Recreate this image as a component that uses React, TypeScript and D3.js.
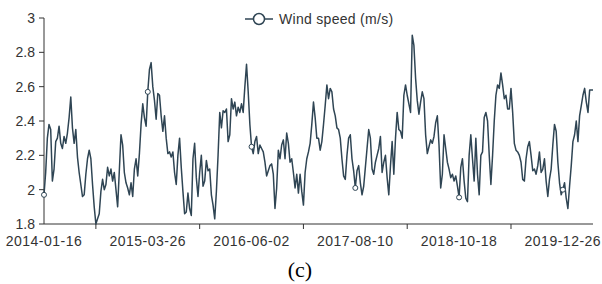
import * as d3 from 'd3';

// weekly mean wind speed
const windSpeed = [
  1.97, 2.10, 2.30, 2.38, 2.35, 2.05, 2.12, 2.28, 2.30, 2.37,
  2.27, 2.24, 2.31, 2.27, 2.33, 2.42, 2.54, 2.36, 2.27, 2.35,
  2.19, 2.10, 2.03, 1.96, 1.97, 2.09, 2.18, 2.23, 2.18, 2.03,
  1.90, 1.80, 1.83, 1.86, 1.99, 2.06, 2.00, 2.03, 2.13, 2.08,
  2.12, 2.05, 2.10, 2.00, 1.90, 2.11, 2.32, 2.26, 2.10, 2.04,
  2.01, 1.97, 2.04, 1.96, 2.12, 2.18, 2.08, 2.21, 2.38, 2.50,
  2.42, 2.37, 2.57, 2.70, 2.74, 2.60, 2.52, 2.41, 2.56, 2.55,
  2.43, 2.34, 2.43, 2.30, 2.21, 2.22, 2.19, 2.22, 2.10, 2.03,
  2.20, 2.30, 2.13, 1.99, 1.86, 1.87, 1.98, 1.89, 1.85, 2.18,
  2.27, 2.07, 1.96, 2.10, 2.20, 2.02, 2.05, 2.17, 2.11, 2.12,
  1.97, 1.91, 1.83, 1.99, 2.20, 2.45, 2.36, 2.46, 2.45, 2.47,
  2.28, 2.32, 2.53, 2.47, 2.51, 2.43, 2.48, 2.45, 2.50, 2.45,
  2.60, 2.73, 2.57, 2.38, 2.25, 2.21, 2.28, 2.31, 2.21, 2.26,
  2.24, 2.22, 2.16, 2.08, 2.11, 2.14, 2.15, 2.09, 1.89, 2.01,
  2.23, 2.18, 2.26, 2.29, 2.18, 2.33, 2.27, 2.16, 2.18, 2.10,
  2.01, 2.09, 1.98, 2.09, 1.99, 1.91, 2.10, 2.18, 2.22, 2.27,
  2.38, 2.51, 2.42, 2.30, 2.30, 2.23, 2.28, 2.38, 2.49, 2.61,
  2.53, 2.59, 2.57, 2.47, 2.43, 2.36, 2.35, 2.30, 2.18, 2.08,
  2.06, 2.20, 2.30, 2.32, 2.18, 2.11, 2.01, 2.11, 2.14, 2.04,
  1.97, 2.02, 2.13, 2.24, 2.35, 2.30, 2.12, 2.09, 2.16, 2.20,
  2.24, 2.31, 2.10, 2.16, 2.20, 2.07, 1.97, 2.14, 2.28, 2.09,
  2.30, 2.45, 2.35, 2.34, 2.30, 2.55, 2.61, 2.55, 2.50, 2.45,
  2.90, 2.84, 2.65, 2.52, 2.44, 2.51, 2.57, 2.53, 2.32, 2.21,
  2.25, 2.29, 2.27, 2.31, 2.39, 2.43, 2.26, 2.01, 2.09, 2.32,
  2.24, 2.16, 2.12, 2.07, 2.09, 2.05, 2.08, 2.02, 1.955, 2.13,
  2.18, 2.05, 1.95, 1.93, 2.20, 2.32, 2.18, 2.05, 2.30, 2.09,
  1.97, 2.20, 2.22, 2.42, 2.45, 2.40, 2.20, 2.03, 2.20, 2.40,
  2.55, 2.61, 2.59, 2.68, 2.61, 2.53, 2.55, 2.47, 2.47, 2.59,
  2.45, 2.27, 2.23, 2.22, 2.20, 2.16, 2.06, 2.05, 2.18, 2.25,
  2.28, 2.20, 2.11, 2.12, 2.09, 2.14, 2.22, 2.10, 2.12, 2.18,
  2.05, 1.96, 2.06, 2.12, 2.26, 2.38, 2.34, 2.16, 2.04, 1.97,
  2.00, 2.04, 1.95, 1.89, 2.02, 2.14, 2.28, 2.32, 2.40, 2.28,
  2.43, 2.49, 2.55, 2.59, 2.51, 2.45, 2.58, 2.58, 2.58,
];

const startDate = new Date(Date.UTC(2014, 0, 16));
const fmt = d3.utcFormat('%Y-%m-%d');
const dates = windSpeed.map((_, i) => fmt(d3.utcDay.offset(startDate, i * 7)));

const xLabels = ['2014-01-16', '2015-03-26', '2016-06-02', '2017-08-10', '2018-10-18', '2019-12-26'];
const yTicks = [1.8, 2, 2.2, 2.4, 2.6, 2.8, 3];

const LINE = '#2f4554';
const AXIS = '#333';
const FONT = '"Liberation Sans", Arial, sans-serif';

export default function App() {
  const width = 602;
  const height = 284;

  const x = d3.scaleLinear().domain([0, windSpeed.length - 1]).range([44, 593]);
  const y = d3.scaleLinear().domain([1.8, 3]).range([224, 18]);

  const path = d3
    .line<number>()
    .x((_, i) => x(i))
    .y((d) => y(d))(windSpeed);

  const labelIdx = xLabels.map((l) => dates.indexOf(l));
  // ticks sit half way between labels
  const tickIdx = labelIdx.slice(0, -1).map((v, k) => (v + labelIdx[k + 1]) / 2);

  return (
    <svg
      width={width}
      height={height}
      style={{ position: 'absolute', left: 0, top: 0, background: '#fff' }}
    >
      {/* legend */}
      <g>
        <line x1={245} x2={273} y1={19} y2={19} stroke={LINE} strokeWidth={1.5} />
        <circle cx={259} cy={19} r={5.5} fill="#fff" stroke={LINE} strokeWidth={1.5} />
        <text
          x={279}
          y={19}
          dominantBaseline="central"
          fontFamily={FONT}
          fontSize={14}
          letterSpacing={0.3}
          fill="#333"
        >
          Wind speed (m/s)
        </text>
      </g>

      {/* y axis */}
      <line x1={44} x2={44} y1={18} y2={224} stroke={AXIS} />
      {yTicks.map((t) => (
        <g key={t}>
          <line x1={39} x2={44} y1={y(t)} y2={y(t)} stroke={AXIS} />
          <text
            x={35}
            y={y(t)}
            textAnchor="end"
            dominantBaseline="central"
            fontFamily={FONT}
            fontSize={14}
            fill="#333"
          >
            {String(t)}
          </text>
        </g>
      ))}

      {/* x axis */}
      <line x1={44} x2={593} y1={224} y2={224} stroke={AXIS} />
      {tickIdx.map((i) => (
        <line key={i} x1={x(i)} x2={x(i)} y1={224} y2={229} stroke={AXIS} />
      ))}
      {labelIdx.map((i, k) => (
        <text
          key={k}
          x={x(i)}
          y={246}
          textAnchor="middle"
          fontFamily={FONT}
          fontSize={14}
          letterSpacing={0.5}
          fill="#333"
        >
          {xLabels[k]}
        </text>
      ))}

      {/* series */}
      <path d={path ?? ''} fill="none" stroke={LINE} strokeWidth={1.5} strokeLinejoin="round" />
      {labelIdx.map((i) => (
        <circle key={i} cx={x(i)} cy={y(windSpeed[i])} r={2.5} fill="#fff" stroke={LINE} strokeWidth={1} />
      ))}

      <text
        x={300}
        y={277}
        textAnchor="middle"
        fontFamily='"Liberation Serif", "Times New Roman", serif'
        fontSize={22}
        fill="#000"
      >
        (c)
      </text>
    </svg>
  );
}
